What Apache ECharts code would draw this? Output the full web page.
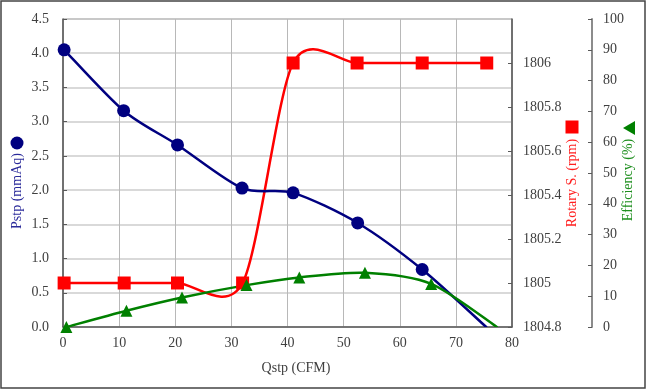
<!DOCTYPE html>
<html>
<head>
<meta charset="utf-8">
<script src="https://cdn.jsdelivr.net/npm/echarts@6/dist/echarts.min.js"></script>
<style>
html,body{margin:0;padding:0;background:#fff;}
#c{width:647px;height:390px;}
</style>
</head>
<body>
<div id="c"></div>
<script>
// ---- data ----
const qPstp = [0.2, 10.8, 20.4, 31.9, 41.0, 52.5, 64.0, 75.4];
const pstp  = [4.05, 3.16, 2.66, 2.03, 1.96, 1.52, 0.84, 0.0];
const qRpm  = [0.2, 10.9, 20.4, 32.0, 41.0, 52.4, 64.0, 75.5];
const rpm   = [1805, 1805, 1805, 1805, 1806, 1806, 1806, 1806];
const qEff  = [0.6, 11.3, 21.2, 32.7, 42.1, 53.8, 65.6, 77.3];
const eff   = [0, 5.3, 9.6, 13.6, 16.1, 17.6, 14.0, 0];
const xTitle = 'Qstp (CFM)';
const pTitle = 'Pstp (mmAq)';
const rTitle = 'Rotary S. (rpm)';
const eTitle = 'Efficiency (%)';

const FONT = 'Liberation Serif, Times New Roman, serif';
const chart = echarts.init(document.getElementById('c'), null, {renderer: 'canvas'});

function pts(xs, ys) { return xs.map((x, i) => [x, ys[i]]); }
function markerPts(xs, ys, lastNoSymbol) {
  return xs.map((x, i) => {
    const d = {value: [x, ys[i]]};
    if (lastNoSymbol && i === xs.length - 1) d.symbol = 'none';
    return d;
  });
}
// Excel-style smoothed curve: one cubic Bezier per segment, control points from neighbours
function smoothCurve(name, xs, ys, yAxisIndex, color, z) {
  const data = pts(xs, ys);
  return {
    name: name, type: 'custom', yAxisIndex: yAxisIndex, z: z, clip: true,
    data: data, encode: {x: 0, y: 1},
    renderItem: function (params, api) {
      const i = params.dataIndex, n = data.length;
      if (i >= n - 1) return null;
      const P = k => api.coord(data[Math.max(0, Math.min(n - 1, k))]);
      const p0 = P(i - 1), p1 = P(i), p2 = P(i + 1), p3 = P(i + 2);
      const t = 0.14;
      return {
        type: 'bezierCurve',
        shape: {
          x1: p1[0], y1: p1[1], x2: p2[0], y2: p2[1],
          cpx1: p1[0] + (p2[0] - p0[0]) * t, cpy1: p1[1] + (p2[1] - p0[1]) * t,
          cpx2: p2[0] - (p3[0] - p1[0]) * t, cpy2: p2[1] - (p3[1] - p1[1]) * t
        },
        style: {stroke: color, lineWidth: 2.5, fill: null, lineCap: 'round'}
      };
    }
  };
}
const lbl = {color: '#404040', fontFamily: FONT, fontSize: 14};

chart.setOption({
  animation: false,
  grid: {left: 63, right: 135, top: 19, bottom: 63, show: true, borderColor: '#7a7a7a', borderWidth: 1},
  xAxis: {
    type: 'value', min: 0, max: 80, interval: 10,
    axisLine: {show: true, lineStyle: {color: '#595959', width: 1.5}},
    axisTick: {show: false},
    axisLabel: Object.assign({margin: 9}, lbl),
    splitLine: {show: true, lineStyle: {color: '#b8b8b8', width: 1}}
  },
  yAxis: [
    {
      type: 'value', min: 0, max: 4.5, interval: 0.5, position: 'left',
      axisLine: {show: true, lineStyle: {color: '#595959', width: 1.5}},
      axisTick: {show: true, inside: true, length: 4, lineStyle: {color: '#595959'}},
      axisLabel: Object.assign({margin: 14, formatter: v => v.toFixed(1)}, lbl),
      splitLine: {show: true, lineStyle: {color: '#cccccc', width: 1.5}}
    },
    {
      type: 'value', min: 1804.8, max: 1806.2, interval: 0.2, position: 'right', offset: 0,
      axisLine: {show: true, lineStyle: {color: '#595959', width: 1.5}},
      axisTick: {show: true, inside: true, length: 4, lineStyle: {color: '#595959'}},
      axisLabel: Object.assign({margin: 11, showMaxLabel: false,
        formatter: v => String(parseFloat(v.toFixed(1)))}, lbl),
      splitLine: {show: false}
    },
    {
      type: 'value', min: 0, max: 100, interval: 10, position: 'right', offset: 80,
      axisLine: {show: true, lineStyle: {color: '#8c8c8c', width: 2}},
      axisTick: {show: true, inside: true, length: 4, lineStyle: {color: '#595959'}},
      axisLabel: Object.assign({margin: 11}, lbl),
      splitLine: {show: false}
    }
  ],
  series: [
    smoothCurve(rTitle, qRpm, rpm, 1, '#ff0000', 3),
    smoothCurve(pTitle, qPstp, pstp, 0, '#000080', 4),
    smoothCurve(eTitle, qEff, eff, 2, '#008000', 5),
    {
      name: rTitle + ' marker', type: 'scatter', yAxisIndex: 1,
      data: markerPts(qRpm, rpm, false),
      symbol: 'rect', symbolSize: 13, itemStyle: {color: '#ff0000', opacity: 1}, z: 6
    },
    {
      name: pTitle + ' marker', type: 'scatter', yAxisIndex: 0,
      data: markerPts(qPstp, pstp, true),
      symbol: 'circle', symbolSize: 13, itemStyle: {color: '#000080', opacity: 1}, z: 7
    },
    {
      name: eTitle + ' marker', type: 'scatter', yAxisIndex: 2,
      data: markerPts(qEff, eff, true),
      symbol: 'triangle', symbolSize: 12, itemStyle: {color: '#008000', opacity: 1}, z: 8
    }
  ],
  graphic: [
    {type: 'rect', silent: true, shape: {x: 1, y: 1, width: 644, height: 387},
     style: {fill: 'none', stroke: '#444', lineWidth: 1.5}},
    {type: 'text', x: 296, y: 368, style: {text: xTitle, font: '14px ' + FONT, fill: '#404040', align: 'center', verticalAlign: 'middle'}},
    {type: 'text', x: 17, y: 191, rotation: Math.PI / 2, style: {text: pTitle, font: '14px ' + FONT, fill: '#2a2a9a', align: 'center', verticalAlign: 'middle'}},
    {type: 'circle', shape: {cx: 17, cy: 143, r: 6.5}, style: {fill: '#000080'}},
    {type: 'text', x: 572, y: 183, rotation: Math.PI / 2, style: {text: rTitle, font: '14px ' + FONT, fill: '#ff2020', align: 'center', verticalAlign: 'middle'}},
    {type: 'rect', shape: {x: 565.5, y: 120.5, width: 13, height: 13}, style: {fill: '#ff0000'}},
    {type: 'text', x: 628, y: 180, rotation: Math.PI / 2, style: {text: eTitle, font: '14px ' + FONT, fill: '#1f8f1f', align: 'center', verticalAlign: 'middle'}},
    {type: 'polygon', shape: {points: [[623, 128], [635, 121], [635, 135]]}, style: {fill: '#008000'}}
  ]
});
</script>
</body>
</html>
